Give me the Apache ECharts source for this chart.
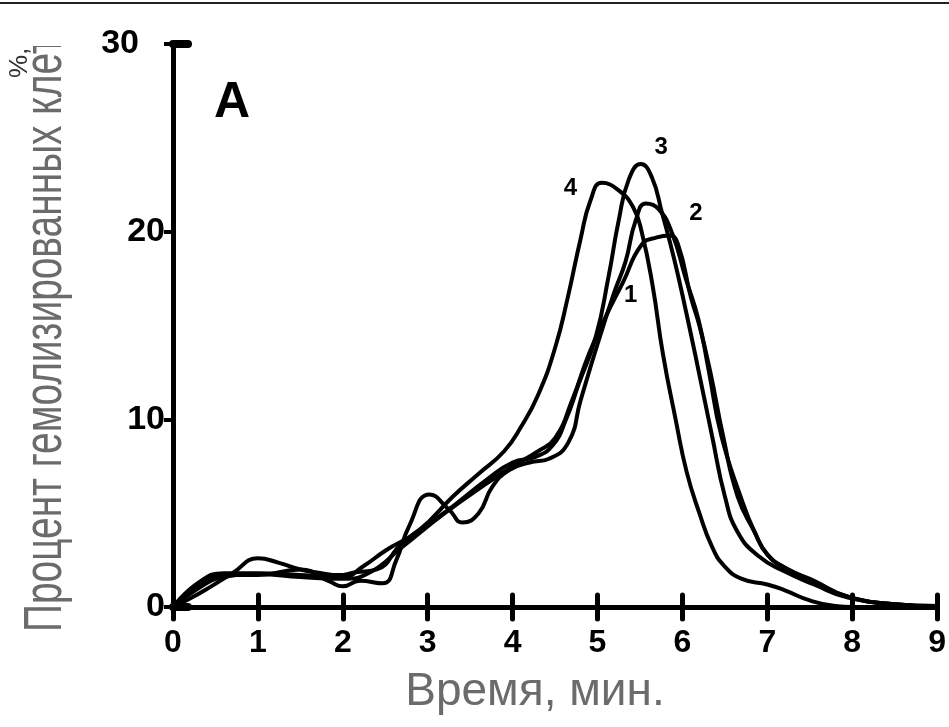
<!DOCTYPE html>
<html>
<head>
<meta charset="utf-8">
<script src="https://cdn.jsdelivr.net/npm/echarts@6/dist/echarts.min.js"></script>
<style>
  html, body { margin: 0; padding: 0; background: #fff; }
  #chart { width: 949px; height: 727px; }
</style>
</head>
<body>
<div id="chart"></div>
<script>
// время, мин. / процент гемолизированных клеток
var xTicks = [0, 1, 2, 3, 4, 5, 6, 7, 8, 9];
var yTicks = [0, 10, 20, 30];

var curve1 = [[0,0],[0.3,1.0],[0.6,1.6],[1.0,1.75],[1.5,1.6],[2.0,1.5],[2.3,1.8],[2.7,3.2],[3.2,5.0],[3.7,6.6],[4.0,7.5],[4.3,8.3],[4.5,9.0],[4.7,11.0],[4.9,13.5],[5.1,15.5],[5.3,17.3],[5.52,19.3],[5.7,19.7],[5.85,19.8],[5.95,19.3],[6.1,16.5],[6.2,15.0],[6.33,12.5],[6.48,9.1],[6.65,5.9],[6.85,4.0],[7.0,2.8],[7.25,2.0],[7.55,1.4],[7.95,0.55],[8.5,0.15],[9,0.05]];
var curve2 = [[0,0],[0.3,1.1],[0.65,1.7],[1.0,1.7],[1.5,2.0],[1.85,1.35],[2.0,1.1],[2.2,1.4],[2.47,1.26],[2.63,2.5],[2.78,4.3],[3.02,6.0],[3.25,5.2],[3.41,4.5],[3.6,5.0],[3.76,6.4],[3.96,7.3],[4.2,7.7],[4.43,7.9],[4.66,8.8],[4.8,11.0],[5.0,14.0],[5.2,16.8],[5.33,18.4],[5.45,20.6],[5.57,21.5],[5.72,21.2],[5.88,19.9],[6.04,17.5],[6.19,15.3],[6.31,12.6],[6.46,9.1],[6.7,5.7],[6.85,4.0],[7.0,2.8],[7.2,2.1],[7.55,1.3],[7.95,0.55],[8.5,0.15],[9,0.05]];
var curve3 = [[0,0],[0.2,0.45],[0.45,1.1],[0.7,1.8],[1.0,2.6],[1.25,2.35],[1.5,2.0],[1.75,1.8],[1.95,1.7],[2.15,1.85],[2.4,2.0],[2.7,3.4],[3.25,5.2],[3.7,6.8],[4.0,7.7],[4.27,8.0],[4.47,8.6],[4.63,10.0],[4.78,11.9],[4.98,14.4],[5.13,17.6],[5.25,20.6],[5.37,22.8],[5.51,23.6],[5.64,22.9],[5.76,21.0],[5.9,18.6],[6.04,15.8],[6.19,12.6],[6.35,9.1],[6.5,5.9],[6.65,4.0],[6.9,2.7],[7.2,1.9],[7.55,1.2],[7.95,0.5],[8.5,0.15],[9,0.05]];
var curve4 = [[0,0],[0.3,1.3],[0.6,1.8],[1.0,1.8],[1.5,1.7],[2.0,1.6],[2.25,2.2],[2.5,3.0],[2.9,4.1],[3.3,5.9],[3.6,7.1],[3.9,8.3],[4.1,9.6],[4.3,11.3],[4.5,13.8],[4.65,16.5],[4.8,19.6],[4.92,21.7],[5.05,22.6],[5.25,22.2],[5.42,21.3],[5.52,20.0],[5.65,17.1],[5.77,13.5],[5.92,10.0],[6.05,7.2],[6.2,5.0],[6.35,3.2],[6.5,2.15],[6.7,1.5],[7.0,1.2],[7.2,0.9],[7.5,0.35],[7.8,0.05],[8,0],[9,0]];

var curveNames = ['1', '2', '3', '4'];
var labelPos = [[5.39, 16.6], [6.16, 21.0], [5.75, 24.5], [4.68, 22.3]];

var chart = echarts.init(document.getElementById('chart'));
var font = '"Liberation Sans", Arial, sans-serif';

function mkSeries(name, data, lp) {
  return {
    name: name,
    type: 'line',
    data: data,
    smooth: 0.5,
    showSymbol: false,
    animation: false,
    lineStyle: { color: '#000', width: 4 },
    markPoint: {
      symbol: 'rect',
      symbolSize: 1,
      itemStyle: { color: 'rgba(0,0,0,0)' },
      data: [{ coord: lp, value: name }],
      label: { show: true, position: 'inside', color: '#000', fontWeight: 'bold', fontSize: 24, fontFamily: font, formatter: name }
    }
  };
}

var opt = {
  backgroundColor: '#fff',
  animation: false,
  grid: { left: 173, right: 10, top: 44, bottom: 120 },
  xAxis: [{
    type: 'value', min: 0, max: 9, interval: 1,
    splitLine: { show: false },
    axisLine: { lineStyle: { color: '#000', width: 5 } },
    axisTick: { length: 12, lineStyle: { color: '#000', width: 5, cap: 'round' } },
    axisLabel: { color: '#000', fontSize: 32, fontWeight: 'bold', fontFamily: font, margin: 20 }
  }, {
    type: 'value', min: 0, max: 9, interval: 1, position: 'bottom',
    splitLine: { show: false },
    axisLine: { show: false },
    axisTick: { inside: true, length: 12, lineStyle: { color: '#000', width: 5, cap: 'round' } },
    axisLabel: { show: false }
  }],
  yAxis: [{
    type: 'value', min: 0, max: 30, interval: 10,
    splitLine: { show: false },
    axisLine: { show: true, lineStyle: { color: '#000', width: 5 } },
    axisTick: { show: true, length: 9, lineStyle: { color: '#000', width: 4 } },
    axisLabel: {
      color: '#000', fontSize: 34, fontWeight: 'bold', fontFamily: font, margin: 8,
      formatter: function (v) { return v === 30 ? '{t|' + v + '}' : String(v); },
      rich: { t: { fontSize: 34, fontWeight: 'bold', fontFamily: font, color: '#000', padding: [0, 26, 0, 0] } }
    }
  }, {
    type: 'value', min: 0, max: 30, interval: 30, position: 'left',
    splitLine: { show: false },
    axisLine: { show: false },
    axisTick: { show: true, inside: true, length: 15, lineStyle: { color: '#000', width: 8, cap: 'round' } },
    axisLabel: { show: false }
  }],
  series: [
    mkSeries(curveNames[0], curve1, labelPos[0]),
    mkSeries(curveNames[1], curve2, labelPos[1]),
    mkSeries(curveNames[2], curve3, labelPos[2]),
    mkSeries(curveNames[3], curve4, labelPos[3])
  ],
  graphic: [
    {
      type: 'text', x: 46, y: 632, rotation: Math.PI / 2, scaleX: 0.72,
      style: { text: 'Процент гемолизированных клеток', fill: '#6b6b6b', fontSize: 54, fontFamily: font, align: 'left', verticalAlign: 'middle' }
    },
    // верх подписи обрезан, как в оригинале
    { type: 'rect', shape: { x: 0, y: 0, width: 90, height: 46 }, style: { fill: '#fff' } },
    {
      type: 'text', x: 20, y: 78, rotation: Math.PI / 2,
      style: { text: '%, ', fill: '#333', fontSize: 26, fontFamily: font, align: 'left', verticalAlign: 'middle' }
    },
    { type: 'line', shape: { x1: 0, y1: 3, x2: 949, y2: 3 }, style: { stroke: '#222', lineWidth: 2 } },
    {
      type: 'text', x: 535, y: 692,
      style: { text: 'Время, мин.', fill: '#6b6b6b', fontSize: 46, fontFamily: font, align: 'center', verticalAlign: 'middle' }
    },
    {
      type: 'text', x: 232, y: 103,
      style: { text: 'A', fill: '#000', fontSize: 50, fontWeight: 'bold', fontFamily: font, align: 'center', verticalAlign: 'middle' }
    }
  ]
};

chart.setOption(opt);
</script>
</body>
</html>
